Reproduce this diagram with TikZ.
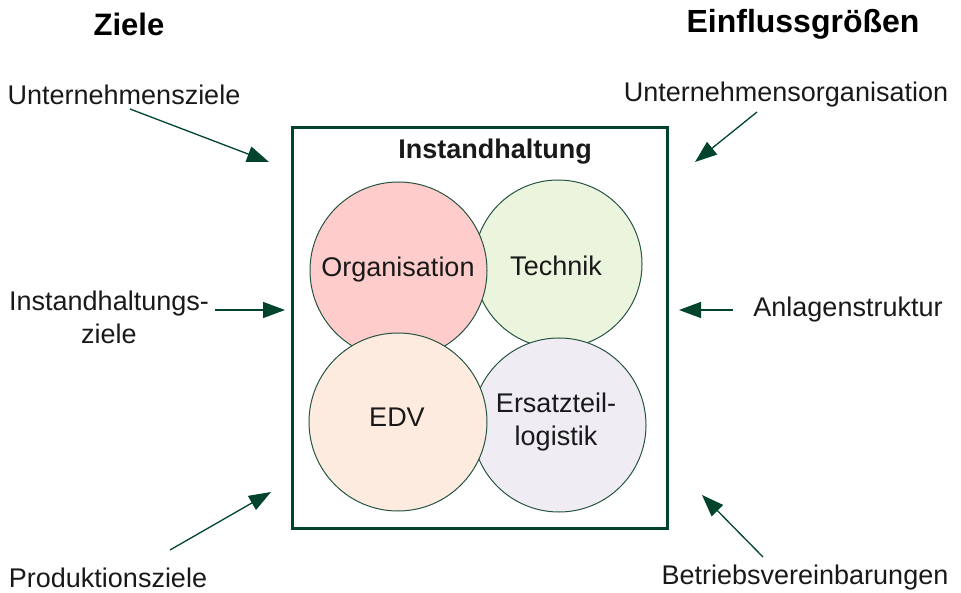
\documentclass[tikz,border=0pt]{standalone}
\usepackage{fontspec}
\setmainfont{Liberation Sans}
\usetikzlibrary{arrows.meta}
\definecolor{dkgreen}{RGB}{0,68,44}
\definecolor{circline}{RGB}{38,84,66}
\definecolor{orgfill}{RGB}{255,204,204}
\definecolor{techfill}{RGB}{235,244,220}
\definecolor{edvfill}{RGB}{253,235,223}
\definecolor{etlfill}{RGB}{239,236,244}
\tikzset{
  lbl/.style={font=\fontsize{27}{33}\selectfont, align=center, inner sep=0pt, text=black!90},
  head/.style={font=\fontsize{31}{36}\selectfont\bfseries, inner sep=0pt},
  circ/.style={circle, draw=circline, line width=1pt, inner sep=0pt},
  arr/.style={draw=dkgreen, line width=1.3pt, -{Triangle[length=22pt,width=16pt]}},
}
\begin{document}
\begin{tikzpicture}[x=1pt,y=-1pt]
\useasboundingbox (0,0) rectangle (961,593);
% headings
\node[head] (ziele) at (129,24) {Ziele};
\node[head, font=\fontsize{32}{36}\selectfont\bfseries] (einfl) at (803,24) {Einflussgrößen};
% main box
\draw[dkgreen, line width=3pt] (292,128) rectangle (667,528);
\node[lbl, font=\fontsize{27}{33}\selectfont\bfseries] (ih) at (495,152) {Instandhaltung};
% circles
\node[circ, fill=techfill, minimum size=168pt] (tech) at (558,264) {};
\node[circ, fill=orgfill, minimum size=177pt] (org) at (398.5,270.5) {};
\node[circ, fill=etlfill, minimum size=174pt] (etl) at (559,425) {};
\node[circ, fill=edvfill, minimum size=178pt] (edv) at (398,422) {};
\node[lbl] (orgt) at (398,270) {Organisation};
\node[lbl] (techt) at (556,266) {Technik};
\node[lbl] (edvt) at (397,417) {EDV};
\node[lbl] (etlt) at (556,422) {Ersatzteil-\\logistik};
% side labels
\node[lbl] (uz) at (124,95) {Unternehmensziele};
\node[lbl] (iz) at (109,317) {Instandhaltungs-\\ziele};
\node[lbl] (pz) at (108,578) {Produktionsziele};
\node[lbl] (uo) at (786,95) {Unternehmensorganisation};
\node[lbl] (as) at (848,310) {Anlagenstruktur};
\node[lbl] (bv) at (805,578) {Betriebsvereinbarungen};
% arrow endpoints
\coordinate (a1s) at (130,109); \coordinate (a1e) at (269,162);
\coordinate (a2s) at (215,310); \coordinate (a2e) at (285,310);
\coordinate (a3s) at (170,550); \coordinate (a3e) at (271,492);
\coordinate (a4s) at (757,112); \coordinate (a4e) at (695,162);
\coordinate (a5s) at (733,310); \coordinate (a5e) at (679,310);
\coordinate (a6s) at (763,557); \coordinate (a6e) at (702,495);
\draw[arr] (a1s) -- (a1e);
\draw[arr] (a2s) -- (a2e);
\draw[arr] (a3s) -- (a3e);
\draw[arr] (a4s) -- (a4e);
\draw[arr] (a5s) -- (a5e);
\draw[arr] (a6s) -- (a6e);
\end{tikzpicture}
\end{document}
